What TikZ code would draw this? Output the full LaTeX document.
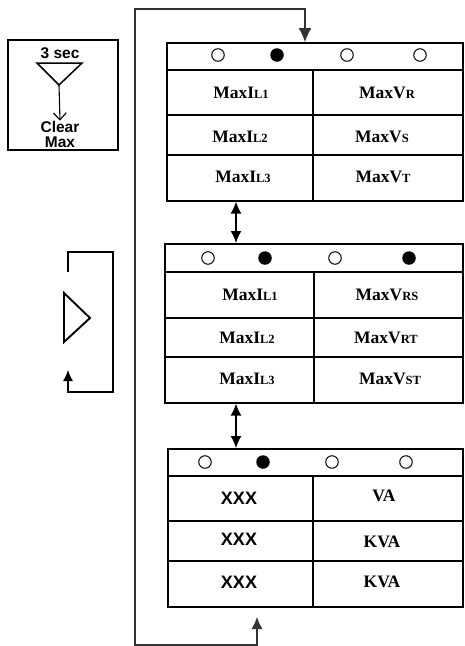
\documentclass[tikz,border=0pt]{standalone}
\usepackage{fontspec}
\setmainfont{Liberation Serif}
\setsansfont{Liberation Sans}
\usetikzlibrary{arrows.meta,positioning}

\newcommand*{\smc}[1]{{\fontsize{12.5}{14}\selectfont #1}}

\tikzset{
  screen/.style={draw, line width=1.6pt, inner sep=0pt, anchor=north west},
  celltxt/.style={font=\bfseries\fontsize{17.5}{19}\selectfont, inner sep=0pt},
  sanstxt/.style={font=\sffamily\bfseries\fontsize{15.5}{17}\selectfont, inner sep=0pt, align=center},
  xxxtxt/.style={font=\sffamily\bfseries\fontsize{18}{20}\selectfont, inner sep=0pt},
  ledoff/.style={draw, circle, line width=1pt, minimum size=12.5pt, inner sep=0pt},
  ledon/.style={fill, circle, minimum size=13.5pt, inner sep=0pt},
  loopline/.style={line width=1.1pt, black!80},
  dbltip/.style={{Latex[length=12pt,width=11pt]}-{Latex[length=12pt,width=11pt]}, line width=1.4pt}
}

\begin{document}
\begin{tikzpicture}[x=1pt, y=-1pt]
		\useasboundingbox (0,0) rectangle (464,646);
		% clear max key
		\node[draw, line width=1.6pt, minimum width=110pt, minimum height=110pt] (clrbox) at (63,95) {};
		\node[sanstxt] (sec) at (60,53) {3 sec};
		\coordinate (triL) at (37,63);
		\coordinate (triR) at (82,63);
		\coordinate (tri) at (59,85);
		\draw[line width=1.5pt, line join=miter] (triL) -- (triR) -- (tri) -- cycle;
		\node[sanstxt] (clr) at (60,134) {Clear\\[-2pt]Max};
		\draw[line width=1.1pt, -{Straight Barb[length=7pt,width=13pt]}] (tri) -- (clr.north);
		
		% scroll key
		\coordinate (K1) at (68,272);
		\coordinate (K2) at (68,370);
		\draw[line width=1.1pt, -{Latex[length=11pt,width=10pt]}] (K1) -- (68,252) -- (113,252) -- (113,392) -- (68,392) -- (K2);
		\draw[line width=1.9pt, line join=miter] (64,293) -- (64,342) -- (90,318) -- cycle;
		
		% screen 1
		\node[screen, minimum width=296pt, minimum height=158pt] (scrA) at (166,42) {};
		\draw[line width=1.6pt] (scrA.west |- 0,70) -- (scrA.east |- 0,70);
		\draw[line width=1.6pt] (scrA.west |- 0,115) -- (scrA.east |- 0,115);
		\draw[line width=1.6pt] (scrA.west |- 0,155) -- (scrA.east |- 0,155);
		\draw[line width=1.6pt] (313,70) -- (313,0 |- scrA.south);
		\node[ledoff] (a1) at (218,55) {};
		\node[ledon] (a2) at (277,55) {};
		\node[ledoff] (a3) at (347,55) {};
		\node[ledoff] (a4) at (420,55) {};
		\node[celltxt] (aI1) at (241,93) {MaxI\smc{L1}};
		\node[celltxt] (aI2) at (240,137) {MaxI\smc{L2}};
		\node[celltxt] (aI3) at (243,177) {MaxI\smc{L3}};
		\node[celltxt] (aV1) at (387,93) {MaxV\smc{R}};
		\node[celltxt] (aV2) at (382,137) {MaxV\smc{S}};
		\node[celltxt] (aV3) at (383,177) {MaxV\smc{T}};
		
		% screen 2
		\node[screen, minimum width=298pt, minimum height=159pt] (scrB) at (164,243) {};
		\draw[line width=1.6pt] (scrB.west |- 0,272) -- (scrB.east |- 0,272);
		\draw[line width=1.6pt] (scrB.west |- 0,318) -- (scrB.east |- 0,318);
		\draw[line width=1.6pt] (scrB.west |- 0,357) -- (scrB.east |- 0,357);
		\draw[line width=1.6pt] (314,272) -- (314,0 |- scrB.south);
		\node[ledoff] (b1) at (208,258) {};
		\node[ledon] (b2) at (265,258) {};
		\node[ledoff] (b3) at (335,258) {};
		\node[ledon] (b4) at (409,258) {};
		\node[celltxt] (bI1) at (250,295) {MaxI\smc{L1}};
		\node[celltxt] (bI2) at (247,338) {MaxI\smc{L2}};
		\node[celltxt] (bI3) at (247,379) {MaxI\smc{L3}};
		\node[celltxt] (bV1) at (387,295) {MaxV\smc{RS}};
		\node[celltxt] (bV2) at (386,338) {MaxV\smc{RT}};
		\node[celltxt] (bV3) at (390,379) {MaxV\smc{ST}};
		
		% screen 3
		\node[screen, minimum width=295pt, minimum height=158pt] (scrC) at (167,448) {};
		\draw[line width=1.6pt] (scrC.west |- 0,476) -- (scrC.east |- 0,476);
		\draw[line width=1.6pt] (scrC.west |- 0,521) -- (scrC.east |- 0,521);
		\draw[line width=1.6pt] (scrC.west |- 0,561) -- (scrC.east |- 0,561);
		\draw[line width=1.6pt] (313,476) -- (313,0 |- scrC.south);
		\node[ledoff] (c1) at (205,462) {};
		\node[ledon] (c2) at (263,462) {};
		\node[ledoff] (c3) at (332,462) {};
		\node[ledoff] (c4) at (406,462) {};
		\node[xxxtxt] (cX1) at (239,498) {XXX};
		\node[xxxtxt] (cX2) at (239,539) {XXX};
		\node[xxxtxt] (cX3) at (239,582) {XXX};
		\node[celltxt] (cV1) at (384,496) {VA};
		\node[celltxt] (cV2) at (382,542) {KVA};
		\node[celltxt] (cV3) at (382,582) {KVA};
		
		% arrows between screens
		\draw[dbltip] (236,0 |- scrA.south) -- (236,0 |- scrB.north);
		\draw[dbltip] (236,0 |- scrB.south) -- (236,0 |- scrC.north);
		
		% return path
		\coordinate (back) at (257,617);
		\draw[loopline, {Latex[length=12pt,width=11pt]}-{Latex[length=14pt,width=13pt]}] (back) -- (257,645) -- (135,645) -- (135,9) -- (305,9) -- (305,0 |- scrA.north);
\end{tikzpicture}
\end{document}
